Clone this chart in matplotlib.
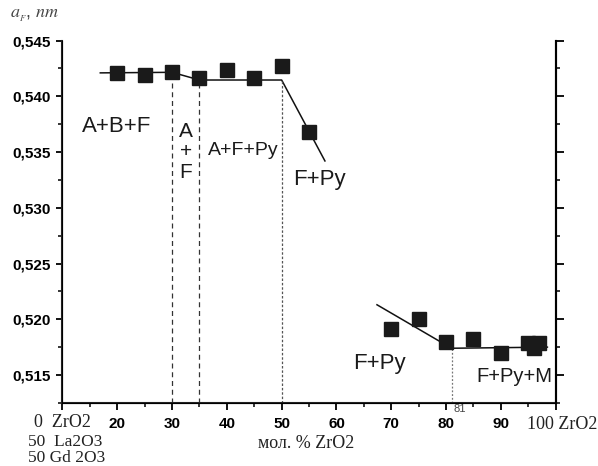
import numpy as np
import matplotlib.pyplot as plt
from matplotlib.ticker import MultipleLocator, FixedLocator

# measured lattice parameter a_F, nm
x_pts = [20, 25, 30, 35, 40, 45, 50, 55, 70, 75, 80, 85, 90, 95, 96, 97]
y_pts = [0.5421, 0.5419, 0.5422, 0.5416, 0.5424, 0.5416, 0.5427, 0.5368,
         0.5191, 0.5200, 0.5180, 0.5182, 0.5170, 0.5179, 0.5174, 0.5179]

# guide lines
line1_x = [16.9, 30, 35, 50, 57.9]
line1_y = [0.5421, 0.54215, 0.54146, 0.54146, 0.5342]
line2_x = [67.4, 81, 98.5]
line2_y = [0.5213, 0.5174, 0.5175]

# phase boundaries: x, top y, style, colour
bounds_x = [30, 35, 50, 81]
bounds_top = [0.54215, 0.54146, 0.54146, 0.5174]
bounds_style = [(0, (4, 3)), (0, (4, 3)), (0, (2, 1.5)), (0, (1.5, 1.5))]
bounds_color = ['#333333', '#333333', '#555555', '#777777']

phase_labels = ['A+B+F', 'A+F+Py', 'F+Py', 'F+Py', 'F+Py+M']
phase_x = [13.5, 36.5, 52.1, 63.0, 85.5]
phase_y = [0.5368, 0.53474, 0.53205, 0.51557, 0.51440]
phase_size = [16, 14, 16, 16, 14.5]

xticks = [10, 20, 30, 40, 50, 60, 70, 80, 90, 100]
xtick_labels = ['', '20', '30', '40', '50', '60', '70', '80', '90', '']
yticks = [0.515, 0.520, 0.525, 0.530, 0.535, 0.540, 0.545]

plt.rcParams['font.family'] = ['Liberation Sans', 'DejaVu Sans']

fig = plt.figure(figsize=(5.98, 4.66), dpi=100)
ax = fig.add_axes([0.1045, 0.1345, 0.8246, 0.7785])

ax.plot(line1_x, line1_y, color='#111111', lw=1.1)
ax.plot(line2_x, line2_y, color='#111111', lw=1.1)
for bx, bt, ls, bc in zip(bounds_x, bounds_top, bounds_style, bounds_color):
    ax.plot([bx, bx], [0.51246, bt], color=bc, lw=0.9, linestyle=ls)
ax.plot(x_pts, y_pts, 's', color='#1a1a1a', markersize=9.4)

for lab, lx, ly, fs in zip(phase_labels, phase_x, phase_y, phase_size):
    ax.text(lx, ly, lab, fontsize=fs, ha='left', va='baseline', color='#1a1a1a')
ax.text(32.5, 0.53501, 'A\n+\nF', fontsize=15, ha='center', va='center',
        linespacing=1.1, color='#1a1a1a')

ax.set_xlim(10, 100)
ax.set_ylim(0.51246, 0.545)

ax.set_xticks(xticks)
ax.set_xticklabels(xtick_labels, fontweight='bold', fontsize=11)
ax.xaxis.set_minor_locator(FixedLocator([15, 25, 35, 45, 55, 65, 75, 85, 95]))
ax.set_yticks(yticks)
ax.set_yticklabels([f'{t:.3f}'.replace('.', ',') for t in yticks],
                   fontweight='bold', fontsize=11)
ax.yaxis.set_minor_locator(MultipleLocator(0.0025))

ax.tick_params(axis='x', which='major', direction='out', length=5, width=1.3, pad=5)
ax.tick_params(axis='x', which='minor', direction='out', length=3.2, width=1.1)
ax.tick_params(axis='y', which='major', direction='out', length=4, width=1.3, pad=4.5)
ax.tick_params(axis='y', which='minor', direction='out', length=3, width=1.1)
ax.spines['top'].set_visible(False)
for s in ['left', 'right', 'bottom']:
    ax.spines[s].set_linewidth(1.5)
    ax.spines[s].set_color('#222222')

# right axis: same scale, longer outward ticks, no labels
axr = ax.twinx()
axr.set_ylim(ax.get_ylim())
axr.set_yticks(yticks)
axr.set_yticklabels([])
axr.yaxis.set_minor_locator(MultipleLocator(0.0025))
axr.tick_params(which='major', direction='out', length=5.8, width=1.3)
axr.tick_params(which='minor', direction='out', length=3, width=1.1)
axr.spines['top'].set_visible(False)
axr.spines['right'].set_linewidth(1.5)

serif = ['Liberation Serif', 'DejaVu Serif']
ax.text(81.4, 0.5124, '81', fontsize=8, ha='left', va='top', color='#444444')
fig.text(0.017, 0.966, r'$a_{_F}$, $nm$', fontsize=13, math_fontfamily='stix',
         ha='left', va='center', color='#444444')
fig.text(0.512, 0.049, 'мол. % ZrO2', fontsize=13, family=serif,
         ha='center', va='center', color='#222222')
fig.text(0.057, 0.094, '0  ZrO2', fontsize=13, family=serif, ha='left',
         va='center', color='#222222')
fig.text(0.046, 0.052, '50  La2O3', fontsize=12.5, family=serif, ha='left',
         va='center', color='#222222')
fig.text(0.046, 0.018, '50 Gd 2O3', fontsize=12.5, family=serif, ha='left',
         va='center', color='#222222')
fig.text(0.882, 0.088, '100 ZrO2', fontsize=13, family=serif, ha='left',
         va='center', color='#222222')

fig.savefig('out.png', dpi=100)
